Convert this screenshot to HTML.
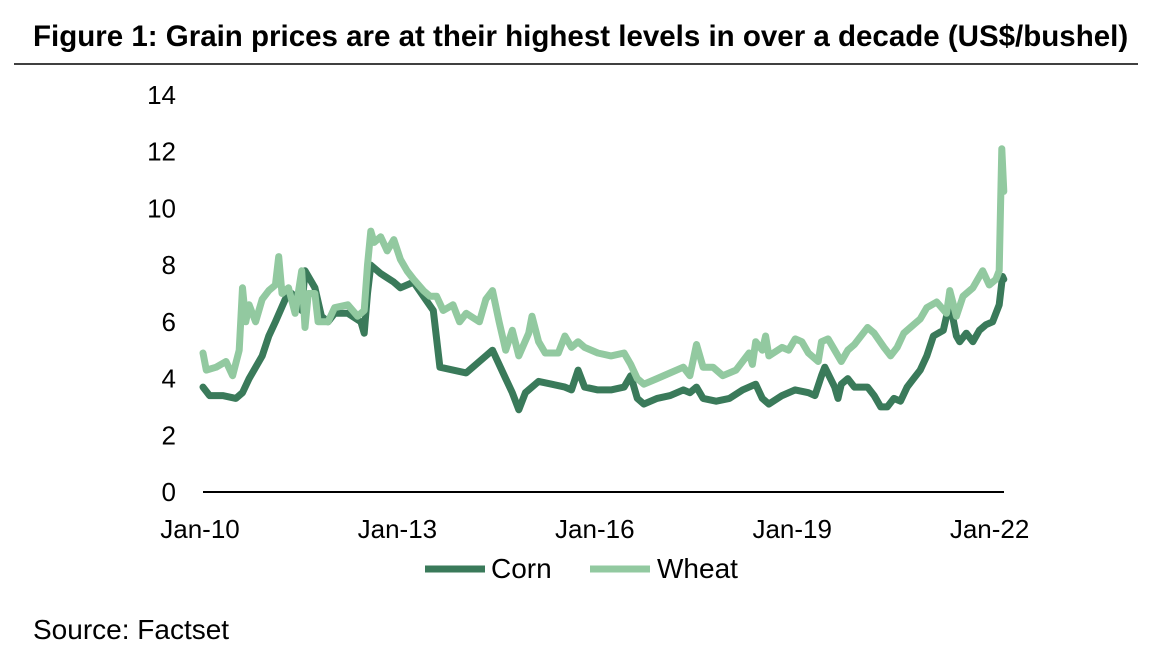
<!DOCTYPE html>
<html><head><meta charset="utf-8"><style>
body{margin:0;background:#fff;font-family:"Liberation Sans",Arial,sans-serif;}
svg{display:block}
</style></head><body>
<svg width="1174" height="658">
<text x="33" y="46" font-size="29.5" font-weight="bold" fill="#000">Figure 1: Grain prices are at their highest levels in over a decade (US$/bushel)</text>
<line x1="14" y1="64" x2="1138" y2="64" stroke="#000" stroke-width="1.5"/>
<g id="yaxis"></g>
<g id="xaxis"></g>
<g id="series"></g>
<g>
<g><line x1="425" y1="569" x2="485" y2="569" stroke="#3a7a5a" stroke-width="7"/><text x="491" y="578" font-size="28">Corn</text></g>
<g><line x1="590" y1="569" x2="650" y2="569" stroke="#92c9a0" stroke-width="7"/><text x="657" y="578" font-size="28">Wheat</text></g>
</g>
<text x="33" y="639" font-size="28">Source: Factset</text>
</svg>
<script>
const yTicks=[0,2,4,6,8,10,12,14];
const xTickYears=[2010,2013,2016,2019,2022];
const xTickLabels=["Jan-10","Jan-13","Jan-16","Jan-19","Jan-22"];
const cornT=[2010.0,2010.1,2010.3,2010.5,2010.6,2010.7,2010.9,2011.0,2011.1,2011.25,2011.35,2011.5,2011.55,2011.7,2011.8,2011.9,2012.0,2012.2,2012.4,2012.45,2012.5,2012.55,2012.7,2012.9,2013.0,2013.2,2013.35,2013.5,2013.6,2013.8,2014.0,2014.3,2014.4,2014.6,2014.7,2014.8,2014.9,2015.1,2015.3,2015.5,2015.6,2015.7,2015.8,2016.0,2016.2,2016.4,2016.5,2016.6,2016.7,2016.9,2017.1,2017.3,2017.4,2017.5,2017.6,2017.8,2018.0,2018.2,2018.4,2018.5,2018.6,2018.8,2019.0,2019.2,2019.3,2019.4,2019.45,2019.6,2019.65,2019.7,2019.8,2019.9,2020.1,2020.2,2020.3,2020.4,2020.5,2020.6,2020.7,2020.8,2020.9,2021.0,2021.1,2021.25,2021.35,2021.45,2021.5,2021.6,2021.7,2021.8,2021.9,2022.0,2022.1,2022.15,2022.17];
const cornV=[3.7,3.4,3.4,3.3,3.5,4.0,4.8,5.5,6.0,6.8,7.0,6.4,7.8,7.2,6.2,6.0,6.3,6.3,6.0,5.6,7.0,8.0,7.7,7.4,7.2,7.4,6.9,6.4,4.4,4.3,4.2,4.8,5.0,4.0,3.5,2.9,3.5,3.9,3.8,3.7,3.6,4.3,3.7,3.6,3.6,3.7,4.1,3.3,3.1,3.3,3.4,3.6,3.5,3.7,3.3,3.2,3.3,3.6,3.8,3.3,3.1,3.4,3.6,3.5,3.4,4.1,4.4,3.7,3.3,3.8,4.0,3.7,3.7,3.4,3.0,3.0,3.3,3.2,3.7,4.0,4.3,4.8,5.5,5.7,6.7,5.5,5.3,5.6,5.3,5.7,5.9,6.0,6.6,7.6,7.5];
const wheatT=[2010.0,2010.05,2010.2,2010.35,2010.45,2010.55,2010.6,2010.65,2010.7,2010.8,2010.9,2011.0,2011.1,2011.15,2011.2,2011.3,2011.4,2011.5,2011.55,2011.6,2011.7,2011.75,2011.9,2012.0,2012.2,2012.35,2012.45,2012.5,2012.55,2012.6,2012.7,2012.8,2012.9,2013.0,2013.1,2013.2,2013.35,2013.45,2013.55,2013.65,2013.8,2013.9,2014.0,2014.2,2014.3,2014.4,2014.5,2014.6,2014.7,2014.8,2014.95,2015.0,2015.1,2015.2,2015.4,2015.5,2015.6,2015.7,2015.8,2016.0,2016.2,2016.4,2016.5,2016.6,2016.7,2016.9,2017.1,2017.3,2017.4,2017.5,2017.6,2017.75,2017.9,2018.1,2018.3,2018.35,2018.4,2018.5,2018.55,2018.6,2018.8,2018.9,2019.0,2019.1,2019.2,2019.35,2019.4,2019.5,2019.6,2019.7,2019.8,2019.9,2020.1,2020.2,2020.35,2020.45,2020.55,2020.65,2020.8,2020.9,2021.0,2021.15,2021.3,2021.35,2021.45,2021.55,2021.7,2021.85,2021.95,2022.05,2022.1,2022.12,2022.14,2022.17];
const wheatV=[4.9,4.3,4.4,4.6,4.1,5.0,7.2,6.0,6.6,6.0,6.8,7.1,7.3,8.3,7.0,7.2,6.3,7.8,5.8,7.0,7.0,6.0,6.0,6.5,6.6,6.2,6.4,8.0,9.2,8.8,9.0,8.5,8.9,8.2,7.8,7.5,7.1,6.9,6.9,6.4,6.6,6.0,6.3,6.0,6.8,7.1,6.0,5.0,5.7,4.8,5.6,6.2,5.3,4.9,4.9,5.5,5.1,5.3,5.1,4.9,4.8,4.9,4.5,4.0,3.8,4.0,4.2,4.4,4.1,5.2,4.4,4.4,4.1,4.3,4.9,4.5,5.3,5.0,5.5,4.8,5.1,5.0,5.4,5.3,4.9,4.6,5.3,5.4,5.0,4.6,5.0,5.2,5.8,5.6,5.1,4.8,5.1,5.6,5.9,6.1,6.5,6.7,6.3,7.1,6.2,6.9,7.2,7.8,7.3,7.5,7.8,10.0,12.1,10.6];
const NS="http://www.w3.org/2000/svg";
const X=t=>203+(t-2010)*65.8;
const Y=v=>492-v*28.36;
const ya=document.getElementById('yaxis'),xa=document.getElementById('xaxis'),sg=document.getElementById('series');
yTicks.forEach(v=>{const t=document.createElementNS(NS,'text');


t.setAttribute('x',176);t.setAttribute('y',Y(v)+9);t.setAttribute('text-anchor','end');t.setAttribute('font-size','26');t.textContent=v;ya.appendChild(t);});
const ax=document.createElementNS(NS,'line');


ax.setAttribute('x1',203);ax.setAttribute('x2',1004);ax.setAttribute('y1',Y(0));ax.setAttribute('y2',Y(0));ax.setAttribute('stroke','#000');ax.setAttribute('stroke-width','2');xa.appendChild(ax);
xTickYears.forEach((yr,i)=>{const t=document.createElementNS(NS,'text');


t.setAttribute('x',X(yr)-3);t.setAttribute('y',538);t.setAttribute('text-anchor','middle');t.setAttribute('font-size','26');t.textContent=xTickLabels[i];xa.appendChild(t);});
function line(T,V,c,name){const p=document.createElementNS(NS,'polyline');


p.setAttribute('points',T.map((t,i)=>X(t).toFixed(1)+','+Y(V[i]).toFixed(1)).join(' '));
p.setAttribute('fill','none');p.setAttribute('stroke',c);p.setAttribute('stroke-width','7');p.setAttribute('stroke-linejoin','round');p.setAttribute('stroke-linecap','round');sg.appendChild(p);}
line(cornT,cornV,'#3a7a5a','corn-line');
line(wheatT,wheatV,'#92c9a0','wheat-line');
</script>
</body></html>
